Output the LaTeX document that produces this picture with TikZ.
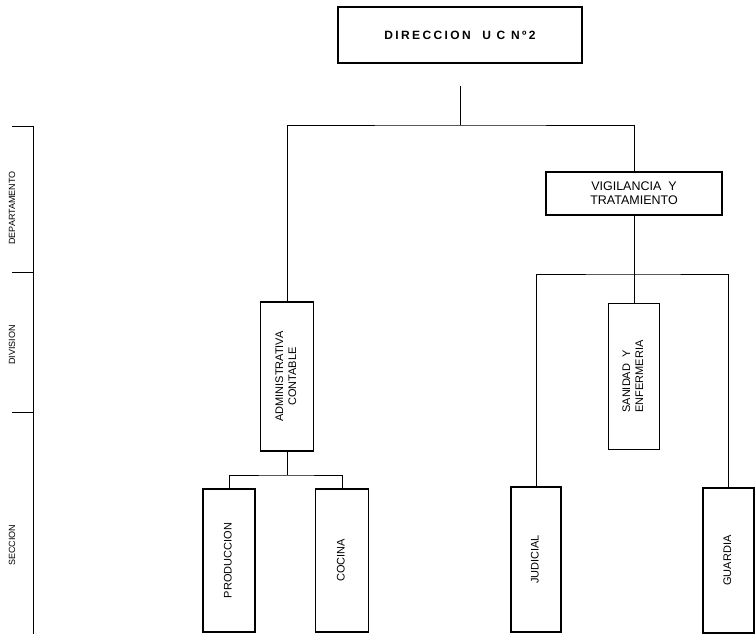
\documentclass[tikz,border=0pt]{standalone}
\usepackage{fontspec}
\setmainfont{Liberation Sans}
\newfontfamily\wideface[LetterSpace=20]{Liberation Sans}
\usetikzlibrary{positioning}

\newcommand{\sidetext}[2][c]{\rotatebox{90}{\begin{tabular}{@{}#1@{}}#2\end{tabular}}}

\begin{document}
\begin{tikzpicture}[x=1pt, y=1pt,
    unit/.style={draw, line width=1.6pt, inner sep=0pt,
                 font=\fontsize{11}{13}\selectfont},
    tall/.style={unit, minimum width=52pt, minimum height=144pt},
    link/.style={line width=0.9pt},
    level/.style={rotate=90, font=\fontsize{9}{11}\selectfont}]
  \useasboundingbox (0,0) rectangle (755,-634);

  % left scale
  \draw[link] (12,-126) -- (33,-126) -- (33,-634);
  \draw[link] (12,-272) -- (33,-272);
  \draw[link] (12,-412) -- (33,-412);
  \node[level] (lvdep) at (12,-208) {DEPARTAMENTO};
  \node[level] (lvdiv) at (12,-345) {DIVISION};
  \node[level] (lvsec) at (12,-545) {SECCION};

  % boxes
  \node (dir) [unit, minimum width=244pt, minimum height=56pt] at (460,-35)
    {\fontsize{12}{14}\selectfont\wideface\bfseries DIRECCION\ \ U C Nº2};
  \node (vig) [unit, minimum width=176pt, minimum height=43pt, align=center,
               font=\fontsize{12.5}{14}\selectfont]
    at (634,-193.5) {VIGILANCIA\ \ Y\\TRATAMIENTO};
  \node (adm) [tall, minimum width=53pt, minimum height=149pt] at (287,-376.5)
    {\sidetext{ADMINISTRATIVA\\CONTABLE}};
  \node (san) [tall, minimum width=51pt, minimum height=146pt, below=87pt of vig]
    {\sidetext[l]{SANIDAD\ \ Y\\ENFERMERIA}};
  \node (pro) [tall, minimum height=143pt] at (229,-560.5)
    {\sidetext{PRODUCCION}};
  \node (coc) [tall, minimum width=53pt, minimum height=143pt, right=59pt of pro]
    {\sidetext{COCINA}};
  \node (jud) [tall, minimum width=50pt, minimum height=145pt] at (536,-559.5)
    {\sidetext{JUDICIAL}};
  \node (gua) [tall, minimum width=51pt, minimum height=145pt] at (728.5,-560.5)
    {\sidetext{GUARDIA}};

  % connectors
  \coordinate (top) at (460,-125);
  \coordinate (mid) at (634,-274);
  \coordinate (low) at (287,-475);
  \draw[link, shorten <=22pt] (dir.south) -- (top);
  \draw[link] (adm.north) |- (top) -| (vig.north);
  \draw[link] (vig.south) -- (san.north);
  \draw[link] (jud.north) |- (mid) -| (gua.north);
  \draw[link] (adm.south) -- (low);
  \draw[link] (pro.north) |- (low) -| (coc.north);
\end{tikzpicture}
\end{document}
